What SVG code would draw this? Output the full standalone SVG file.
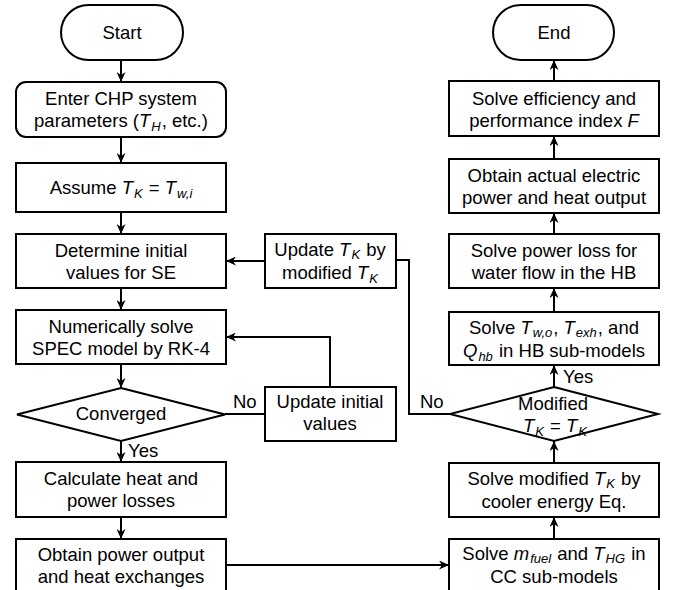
<svg xmlns="http://www.w3.org/2000/svg" width="675" height="590" viewBox="0 0 675 590">
<style>
.n{fill:#fff;stroke:#000;stroke-width:2}
.t{font-family:"Liberation Sans",Arial,sans-serif;font-size:18.5px;text-anchor:middle;fill:#000}
.l{font-family:"Liberation Sans",Arial,sans-serif;font-size:18.5px;fill:#000}
.i{font-style:italic}
.s{font-style:italic;font-size:13px}
.c{fill:none;stroke:#000;stroke-width:2}
</style>
<defs>
<marker id="a" markerUnits="userSpaceOnUse" markerWidth="10" markerHeight="9" refX="10" refY="4.5" orient="auto">
<path d="M0,0 L10,4.5 L0,9 L3,4.5 z" fill="#000"/>
</marker>
</defs>
<rect width="675" height="590" fill="#fff"/>
<g id="connectors">
<line class="c" x1="121" y1="60" x2="121" y2="82" marker-end="url(#a)"/>
<line class="c" x1="121" y1="137" x2="121" y2="163" marker-end="url(#a)"/>
<line class="c" x1="121" y1="212" x2="121" y2="234" marker-end="url(#a)"/>
<line class="c" x1="121" y1="288" x2="121" y2="310" marker-end="url(#a)"/>
<line class="c" x1="121" y1="364" x2="121" y2="388" marker-end="url(#a)"/>
<line class="c" x1="121" y1="441" x2="121" y2="462" marker-end="url(#a)"/>
<line class="c" x1="121" y1="517" x2="121" y2="539" marker-end="url(#a)"/>
<line class="c" x1="226" y1="565" x2="449" y2="565" marker-end="url(#a)"/>
<line class="c" x1="554" y1="539" x2="554" y2="517" marker-end="url(#a)"/>
<line class="c" x1="554" y1="463" x2="554" y2="441" marker-end="url(#a)"/>
<line class="c" x1="554" y1="387" x2="554" y2="365" marker-end="url(#a)"/>
<line class="c" x1="554" y1="312" x2="554" y2="288" marker-end="url(#a)"/>
<line class="c" x1="554" y1="234" x2="554" y2="213" marker-end="url(#a)"/>
<line class="c" x1="554" y1="159" x2="554" y2="136" marker-end="url(#a)"/>
<line class="c" x1="554" y1="81" x2="554" y2="60" marker-end="url(#a)"/>
<line class="c" x1="225" y1="414" x2="265" y2="414"/>
<polyline class="c" points="330,387 330,337 226,337" marker-end="url(#a)"/>
<polyline class="c" points="450,414 409,414 409,260 396,260"/>
<line class="c" x1="265" y1="261" x2="226" y2="261" marker-end="url(#a)"/>
<text class="l" x="128" y="457">Yes</text>
<text class="l" x="563" y="383">Yes</text>
<text class="l" x="233" y="408">No</text>
<text class="l" x="420" y="408">No</text>
</g>
<g id="start">
<rect class="n" x="61" y="5" width="122" height="55" rx="27.5"/>
<text class="t" x="122" y="39">Start</text>
</g>
<g id="enter">
<rect class="n" x="16" y="82" width="210" height="55" rx="10"/>
<text class="t" x="121" y="105">Enter CHP system</text>
<text class="t" x="121" y="127">parameters (<tspan class="i">T</tspan><tspan class="s" dx="1" dy="4">H</tspan><tspan dx="1" dy="-4">, etc.)</tspan></text>
</g>
<g id="assume">
<rect class="n" x="16" y="163" width="210" height="49"/>
<text class="t" x="121" y="194">Assume <tspan class="i">T</tspan><tspan class="s" dx="1" dy="4">K</tspan><tspan dx="1" dy="-4"> = </tspan><tspan class="i">T</tspan><tspan class="s" dx="1" dy="4">w,i</tspan></text>
</g>
<g id="determine">
<rect class="n" x="16" y="234" width="210" height="54"/>
<text class="t" x="121" y="257">Determine initial</text>
<text class="t" x="121" y="279">values for SE</text>
</g>
<g id="numerically">
<rect class="n" x="16" y="310" width="210" height="54"/>
<text class="t" x="121" y="333">Numerically solve</text>
<text class="t" x="121" y="355">SPEC model by RK-4</text>
</g>
<g id="converged">
<polygon class="n" points="121,388 225,414.5 121,441 17,414.5"/>
<text class="t" x="121" y="420">Converged</text>
</g>
<g id="calculate">
<rect class="n" x="16" y="462" width="210" height="55"/>
<text class="t" x="121" y="485">Calculate heat and</text>
<text class="t" x="121" y="507">power losses</text>
</g>
<g id="obtain-power">
<rect class="n" x="16" y="539" width="210" height="60"/>
<text class="t" x="121" y="561">Obtain power output</text>
<text class="t" x="121" y="583">and heat exchanges</text>
</g>
<g id="update-tk">
<rect class="n" x="265" y="234" width="131" height="54"/>
<text class="t" x="330" y="256">Update <tspan class="i">T</tspan><tspan class="s" dx="1" dy="3">K</tspan><tspan dx="1" dy="-3"> by</tspan></text>
<text class="t" x="330" y="279">modified <tspan class="i">T</tspan><tspan class="s" dx="1" dy="4">K</tspan></text>
</g>
<g id="update-initial">
<rect class="n" x="265" y="387" width="131" height="54"/>
<text class="t" x="330" y="408">Update initial</text>
<text class="t" x="330" y="430">values</text>
</g>
<g id="end">
<rect class="n" x="493" y="5" width="121" height="55" rx="27.5"/>
<text class="t" x="554" y="39">End</text>
</g>
<g id="solve-efficiency">
<rect class="n" x="449" y="81" width="210" height="55"/>
<text class="t" x="554" y="105">Solve efficiency and</text>
<text class="t" x="554" y="127">performance index <tspan class="i">F</tspan></text>
</g>
<g id="obtain-actual">
<rect class="n" x="449" y="159" width="210" height="54"/>
<text class="t" x="554" y="182">Obtain actual electric</text>
<text class="t" x="554" y="204">power and heat output</text>
</g>
<g id="solve-power-loss">
<rect class="n" x="449" y="234" width="210" height="54"/>
<text class="t" x="554" y="257">Solve power loss for</text>
<text class="t" x="554" y="279">water flow in the HB</text>
</g>
<g id="solve-hb">
<rect class="n" x="449" y="312" width="210" height="53"/>
<text class="t" x="554" y="334">Solve <tspan class="i">T</tspan><tspan class="s" dx="1" dy="3">w,o</tspan><tspan dx="1" dy="-3">, </tspan><tspan class="i">T</tspan><tspan class="s" dx="1" dy="3">exh</tspan><tspan dx="1" dy="-3">, and</tspan></text>
<text class="t" x="554" y="357"><tspan class="i">Q</tspan><tspan class="s" dx="1" dy="4">hb</tspan><tspan dx="1" dy="-4"> in HB sub-models</tspan></text>
</g>
<g id="modified">
<polygon class="n" points="554,387 658,414 554,441 450,414"/>
<text class="t" x="553" y="410">Modified</text>
<text class="t" x="555" y="432"><tspan class="i">T</tspan><tspan class="s" dx="1" dy="4">K</tspan><tspan dx="1" dy="-4"> = </tspan><tspan class="i">T</tspan><tspan class="s" dx="1" dy="4">K</tspan></text>
</g>
<g id="solve-modified">
<rect class="n" x="449" y="463" width="210" height="54"/>
<text class="t" x="554" y="485">Solve modified <tspan class="i">T</tspan><tspan class="s" dx="1" dy="3">K</tspan><tspan dx="1" dy="-3"> by</tspan></text>
<text class="t" x="554" y="508">cooler energy Eq.</text>
</g>
<g id="solve-cc">
<rect class="n" x="449" y="539" width="210" height="60"/>
<text class="t" x="554" y="560">Solve <tspan class="i">m</tspan><tspan class="s" dx="1" dy="3">fuel</tspan><tspan dx="1" dy="-3"> and </tspan><tspan class="i">T</tspan><tspan class="s" dx="1" dy="3">HG</tspan><tspan dx="1" dy="-3"> in</tspan></text>
<text class="t" x="554" y="583">CC sub-models</text>
</g>
</svg>
